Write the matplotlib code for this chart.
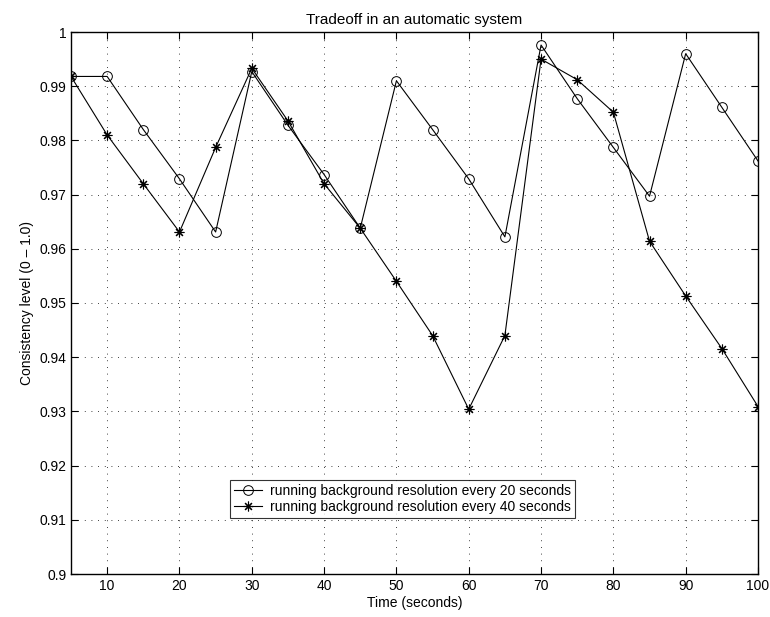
import matplotlib
matplotlib.use("Agg")
import matplotlib.pyplot as plt

plt.rcParams['font.family'] = ['Liberation Sans', 'DejaVu Sans']

time = [5, 10, 15, 20, 25, 30, 35, 40, 45, 50, 55, 60, 65, 70, 75, 80, 85, 90, 95, 100]
every20 = [0.9918, 0.9918, 0.9820, 0.9729, 0.9631, 0.9927, 0.9828, 0.9737, 0.9638, 0.9910,
           0.9820, 0.9729, 0.9622, 0.9976, 0.9877, 0.9787, 0.9697, 0.9960, 0.9861, 0.9762]
every40 = [0.9918, 0.9810, 0.9720, 0.9631, 0.9787, 0.9933, 0.9836, 0.9720, 0.9638, 0.9540,
           0.9440, 0.9304, 0.9440, 0.9950, 0.9912, 0.9852, 0.9614, 0.9513, 0.9416, 0.9309]
labels = ['running background resolution every 20 seconds',
          'running background resolution every 40 seconds']

fig = plt.figure(figsize=(7.7, 6.17), dpi=100)
ax = fig.add_axes([71/770, 43/617, 687/770, 542/617])

ax.plot(time, every20, color='black', lw=0.8, marker='o', markersize=7,
        markerfacecolor='none', markeredgecolor='black', markeredgewidth=0.7, label=labels[0])
ax.plot(time, every40, color='black', lw=0.8, marker=(8, 2, 0), markersize=7,
        markeredgecolor='black', markeredgewidth=0.8, label=labels[1])

ax.set_xlim(5, 100)
ax.set_ylim(0.9, 1.0)
ax.set_xticks(range(10, 101, 10))
ax.set_yticks([0.9 + 0.01 * i for i in range(11)])
ax.set_yticklabels(['0.9', '0.91', '0.92', '0.93', '0.94', '0.95', '0.96', '0.97', '0.98', '0.99', '1'])
ax.tick_params(direction='in', top=True, right=True, labelsize=10, length=5, width=0.8)
ax.grid(True, linestyle=(0, (1, 7)), color='black', lw=0.6)
for s in ax.spines.values():
    s.set_linewidth(1.0)

ax.set_title('Tradeoff in an automatic system', fontsize=11, pad=6)
ax.set_xlabel('Time (seconds)', fontsize=10, labelpad=2)
ax.set_ylabel('Consistency level (0 \u2013 1.0)', fontsize=10, labelpad=4)

leg = ax.legend(loc='lower left', bbox_to_anchor=(0.231, 0.103), borderaxespad=0,
                fontsize=10, frameon=True, fancybox=False, edgecolor='black',
                handlelength=2.0, handletextpad=0.6, borderpad=0.3, labelspacing=0.15)
leg.get_frame().set_linewidth(0.8)

fig.savefig('out.png', dpi=100)
